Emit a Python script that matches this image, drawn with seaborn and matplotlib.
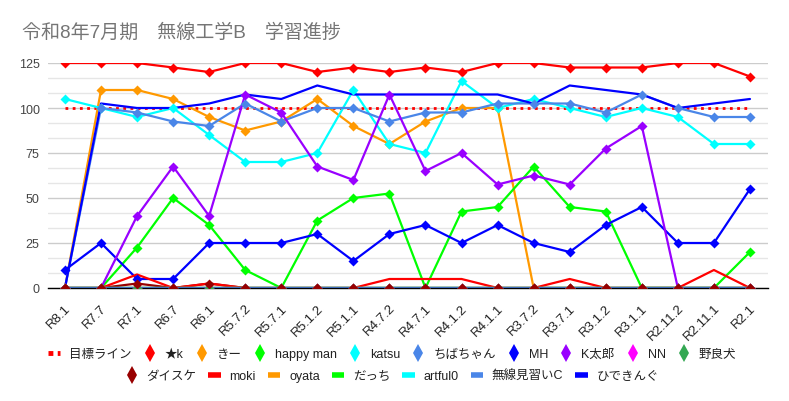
import numpy as np
import pandas as pd
import seaborn as sns
import matplotlib.pyplot as plt
import matplotlib.transforms as mtransforms
from matplotlib.lines import Line2D
from matplotlib.ticker import MultipleLocator

# Categories (x axis, left to right)
periods = ["R8.1", "R7.7", "R7.1", "R6.7", "R6.1", "R5.7.2", "R5.7.1", "R5.1.2",
           "R5.1.1", "R4.7.2", "R4.7.1", "R4.1.2", "R4.1.1", "R3.7.2", "R3.7.1",
           "R3.1.2", "R3.1.1", "R2.11.2", "R2.11.1", "R2.1"]

# Series values
target = [100, 100, 100, 100, 100, 100, 100, 100, 100, 100,
          100, 100, 100, 100, 100, 100, 100, 100, 100, 100]
star_k = [125, 125, 125, 122.5, 120, 125, 125, 120, 122.5, 120,
          122.5, 120, 125, 125, 122.5, 122.5, 122.5, 125, 125, 117.5]
kii = [0, 110, 110, 105, 95, 87.5, 92.5, 105, 90, 80,
       92.5, 100, 100, 0, 0, 0, 0, 0, 0, 0]
happy_man = [0, 0, 22.5, 50, 35, 10, 0, 37.5, 50, 52.5,
             0, 42.5, 45, 67.5, 45, 42.5, 0, 0, 0, 20]
katsu = [105, 100, 95, 100, 85, 70, 70, 75, 110, 80,
         75, 115, 100, 105, 100, 95, 100, 95, 80, 80]
chiba = [0, 100, 97.5, 92.5, 90, 102.5, 92.5, 100, 100, 92.5,
         97.5, 97.5, 102.5, 102.5, 102.5, 97.5, 107.5, 100, 95, 95]
mh = [10, 25, 5, 5, 25, 25, 25, 30, 15, 30,
      35, 25, 35, 25, 20, 35, 45, 25, 25, 55]
k_taro = [0, 0, 40, 67.5, 40, 107.5, 97.5, 67.5, 60, 107.5,
          65, 75, 57.5, 62.5, 57.5, 77.5, 90, 0, 0, 0]
nn = [0, 0, 0, 0, 0, 0, 0, 0, 0, 0, 0, 0, 0, 0, 0, 0, 0, 0, 0, 0]
norainu = [0, 0, 0, 0, 0, 0, 0, 0, 0, 0, 0, 0, 0, 0, 0, 0, 0, 0, 0, 0]
daisuke = [0, 0, 2.5, 0, 2.5, 0, 0, 0, 0, 0, 0, 0, 0, 0, 0, 0, 0, 0, 0, 0]
moki = [0, 0, 7.5, 0, 2.5, 0, 0, 0, 0, 5, 5, 5, 0, 0, 5, 0, 0, 0, 10, 0]
oyata = [0, 0, 0, 0, 0, 0, 0, 0, 0, 0, 0, 0, 0, 0, 0, 0, 0, 0, 0, 0]
dacchi = [0, 0, 0, 0, 0, 0, 0, 0, 0, 0, 0, 0, 0, 0, 0, 0, 0, 0, 0, 0]
artful0 = [0, 0, 0, 0, 0, 0, 0, 0, 0, 0, 0, 0, 0, 0, 0, 0, 0, 0, 0, 0]
minarai_c = [0, 0, 0, 0, 0, 0, 0, 0, 0, 0, 0, 0, 0, 0, 0, 0, 0, 0, 0, 0]
hideking = [0, 102.5, 100, 100, 102.5, 107.5, 105, 112.5, 107.5, 107.5,
            107.5, 107.5, 107.5, 102.5, 112.5, 110, 107.5, 100, 102.5, 105]

# (name, values, colour, has markers)
series = [
    ("★k", star_k, "#ff0000", True),
    ("きー", kii, "#ff9900", True),
    ("happy man", happy_man, "#00ff00", True),
    ("katsu", katsu, "#00ffff", True),
    ("ちばちゃん", chiba, "#4a86e8", True),
    ("MH", mh, "#0000ff", True),
    ("K太郎", k_taro, "#9900ff", True),
    ("NN", nn, "#ff00ff", True),
    ("野良犬", norainu, "#34a853", True),
    ("ダイスケ", daisuke, "#980000", True),
    ("moki", moki, "#ff0000", False),
    ("oyata", oyata, "#ff9900", False),
    ("だっち", dacchi, "#00ff00", False),
    ("artful0", artful0, "#00ffff", False),
    ("無線見習いC", minarai_c, "#4a86e8", False),
    ("ひできんぐ", hideking, "#0000ff", False),
]

sns.set_style("white")
plt.rcParams['font.family'] = ['Liberation Sans', 'Noto Sans CJK JP']

fig = plt.figure(figsize=(7.89, 4.02), dpi=100)
ax = fig.add_axes([48 / 789, 1 - 289 / 402, 720 / 789, 225 / 402])

xs = np.arange(len(periods))

# target line
sns.lineplot(x=xs, y=target, ax=ax, color="#ff0000", lw=2, ls=(0, (1, 1.6)), zorder=2)

# all lines first, then markers on top (like the original chart)
for name, vals, col, mk in series:
    sns.lineplot(x=xs, y=vals, ax=ax, color=col, lw=1.6, zorder=2)
for name, vals, col, mk in series:
    if mk:
        sns.scatterplot(x=xs, y=vals, ax=ax, color=col, marker="D", s=26,
                        linewidth=0, zorder=3)

ax.set_xlim(-0.47, len(periods) - 0.5)
ax.set_ylim(0, 125)
ax.set_yticks([0, 25, 50, 75, 100, 125])
ax.yaxis.set_minor_locator(MultipleLocator(25 / 3))
ax.grid(axis='y', which='major', color='#cccccc', lw=1, zorder=0)
ax.grid(axis='y', which='minor', color='#e6e6e6', lw=1, zorder=0)
ax.set_axisbelow(True)

ax.set_xticks(xs)
ax.set_xticklabels(periods, rotation=45, ha='right', va='center',
                   rotation_mode='anchor', fontsize=9.5, color='#222222')
ax.tick_params(axis='x', which='major', length=5.5, width=1, color='black', pad=8)
ax.tick_params(axis='y', which='both', length=0, labelsize=9, labelcolor='#444444', pad=6)
# nudge rotated labels a little to the right
shift = mtransforms.ScaledTranslation(4 / 100, 1 / 100, fig.dpi_scale_trans)
for lab in ax.get_xticklabels():
    lab.set_transform(lab.get_transform() + shift)

for s in ['top', 'right', 'left']:
    ax.spines[s].set_visible(False)
ax.spines['bottom'].set_color('black')
ax.spines['bottom'].set_linewidth(1)
ax.set_xlabel('')
ax.set_ylabel('')

fig.text(22 / 789, 1 - 33 / 402, "令和8年7月期　無線工学B　学習進捗",
         fontsize=13.7, color='#757575', va='center', ha='left')

# legend, two centred rows
def mk_handle(col):
    return Line2D([], [], marker='d', color=col, linestyle='None', markersize=9,
                  markeredgewidth=0)

def ln_handle(col):
    return Line2D([], [], color=col, lw=4, solid_capstyle='butt')

row1_h = [Line2D([], [], color='#ff0000', lw=3.5, ls=(0, (1, 0.9)))]
row1_l = ["目標ライン"]
row2_h, row2_l = [], []
for name, vals, col, mk in series:
    h = mk_handle(col) if mk else ln_handle(col)
    if len(row1_h) < 10:
        row1_h.append(h)
        row1_l.append(name)
    else:
        row2_h.append(h)
        row2_l.append(name)

common = dict(frameon=False, fontsize=9, handlelength=1.0, handletextpad=0.7,
              columnspacing=0.95, borderaxespad=0, labelcolor='#222222')
fig.legend(row1_h, row1_l, ncol=len(row1_h), loc='center',
           bbox_to_anchor=(0.497, 1 - 355 / 402), **common)
fig.legend(row2_h, row2_l, ncol=len(row2_h), loc='center',
           bbox_to_anchor=(0.497, 1 - 377 / 402), **common)

fig.savefig("out.png", dpi=100)
